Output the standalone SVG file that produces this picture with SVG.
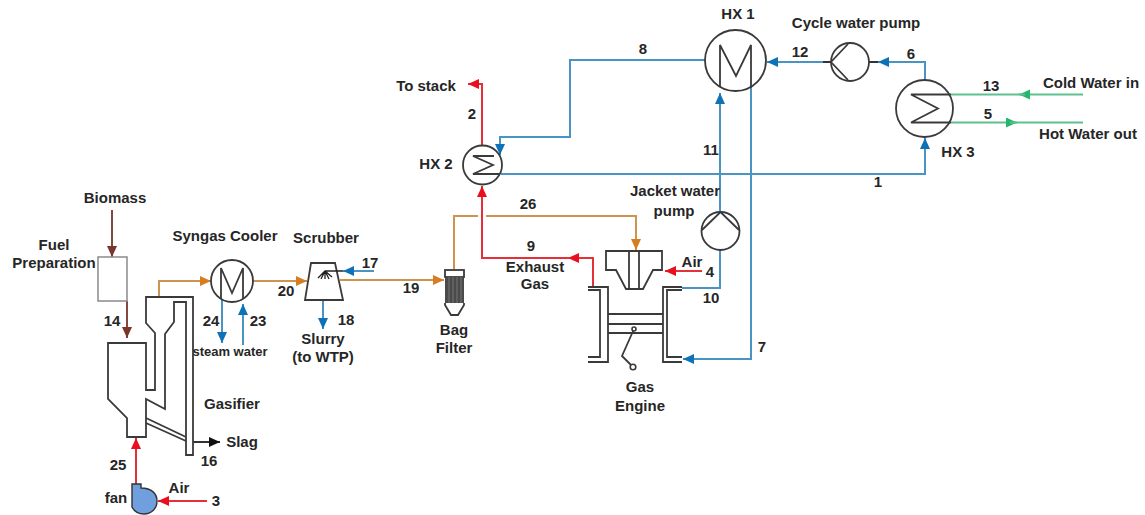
<svg xmlns="http://www.w3.org/2000/svg" width="1145" height="515" viewBox="0 0 1145 515">
<style>
text{font-family:"Liberation Sans",Arial,sans-serif;font-weight:700;font-size:15px;fill:#262626;text-anchor:middle}
.eq{fill:none;stroke:#3a3a3a;stroke-width:1.8}
.eqf{fill:#fff;stroke:#3a3a3a;stroke-width:1.6}
.gr{fill:#fff;stroke:#8a8a8a;stroke-width:1.5}
.c{fill:none;stroke-width:2}
.blue{stroke:#4a94c4}
.org{stroke:#cf9350}
.red{stroke:#e5303a}
.brn{stroke:#84483f}
.grn{stroke:#5fc08f}
.blk{stroke:#333}
</style>
<defs>
<marker id="ab" markerUnits="userSpaceOnUse" markerWidth="12" markerHeight="11" refX="11" refY="5" orient="auto"><path d="M0 0L11 5L0 10Z" fill="#0e72b8"/></marker>
<marker id="ao" markerUnits="userSpaceOnUse" markerWidth="12" markerHeight="11" refX="11" refY="5" orient="auto"><path d="M0 0L11 5L0 10Z" fill="#d67c22"/></marker>
<marker id="ar" markerUnits="userSpaceOnUse" markerWidth="12" markerHeight="11" refX="11" refY="5" orient="auto"><path d="M0 0L11 5L0 10Z" fill="#e8101c"/></marker>
<marker id="an" markerUnits="userSpaceOnUse" markerWidth="12" markerHeight="11" refX="11" refY="5" orient="auto"><path d="M0 0L11 5L0 10Z" fill="#7a362c"/></marker>
<marker id="ag" markerUnits="userSpaceOnUse" markerWidth="12" markerHeight="11" refX="11" refY="5" orient="auto"><path d="M0 0L11 5L0 10Z" fill="#25b56c"/></marker>
<marker id="ak" markerUnits="userSpaceOnUse" markerWidth="12" markerHeight="11" refX="11" refY="5" orient="auto"><path d="M0 0L11 5L0 10Z" fill="#111"/></marker>
</defs>

<g id="connectors">
<path class="c brn" d="M112 210V257" marker-end="url(#an)"/>
<path class="c brn" d="M127 301V338" marker-end="url(#an)"/>
<path class="c org" d="M159 297V281H211" marker-end="url(#ao)"/>
<path class="c org" d="M253 281H307" marker-end="url(#ao)"/>
<path class="c org" d="M340 280H444" marker-end="url(#ao)"/>
<path class="c org" d="M454 269V216H478M486 216H636V250" marker-end="url(#ao)"/>
<path class="c red" d="M593 287V258H568" marker-end="url(#ar)"/>
<path class="c red" d="M570 258H482V186" marker-end="url(#ar)"/>
<path class="c red" d="M482 146V84H468" marker-end="url(#ar)"/>
<path class="c red" d="M136 484V438" marker-end="url(#ar)"/>
<path class="c red" d="M207 501H158" marker-end="url(#ar)"/>
<path class="c red" d="M702 271H665" marker-end="url(#ar)"/>
<path class="c blue" d="M222 300V343" marker-end="url(#ab)"/>
<path class="c blue" d="M243 345V304" marker-end="url(#ab)"/>
<path class="c blue" d="M374 271H343" marker-end="url(#ab)"/>
<path class="c blue" d="M323 300V329" marker-end="url(#ab)"/>
<path class="c blue" d="M705 60H570V137H500V155" marker-end="url(#ab)"/>
<path class="c blue" d="M501 174H925V138" marker-end="url(#ab)"/>
<path class="c blue" d="M682 288H720V250"/>
<path class="c blue" d="M720 212V93" marker-end="url(#ab)"/>
<path class="c blue" d="M751 88V359H683" marker-end="url(#ab)"/>
<path class="c blue" d="M925 80V62H878" marker-end="url(#ab)"/>
<path class="c blue" d="M823 62H767" marker-end="url(#ab)"/>
<path class="c grn" d="M1083 94.500H1019" marker-end="url(#ag)"/>
<path class="c grn" d="M1025 94.500H951"/>
<path class="c grn" d="M951 122.500H1017" marker-end="url(#ag)"/>
<path class="c grn" d="M1010 122.500H1083"/>
<path class="c blk" d="M193 442H220" marker-end="url(#ak)"/>
<path class="c blk" d="M869 62H878M823 62H831"/>
</g>

<g id="fuel-preparation"><rect class="gr" x="98" y="257" width="29" height="44"/></g>

<g id="gasifier">
<path class="eq" d="M108 343H146V390H155V333L146 323V297H193V455H186V302H174V322L165 334V409L146 399V437H127V418L108 399Z"/>
<path class="eq" d="M146 418L186 437M146 423L186 441"/>
</g>

<g id="fan"><path d="M132 484H141V488C152 488 157 494 157 501C157 509 151 514 144 514C138 514 134 511 132 507Z" fill="#6f9fdc" stroke="#333" stroke-width="1.4"/></g>

<g id="syngas-cooler">
<circle class="eq" cx="232" cy="281" r="21"/>
<path class="eq" d="M221 299V268L232 293L243 268V299"/>
</g>

<g id="scrubber">
<path class="eq" d="M311 263H335L343 300H305Z"/>
<path class="eq" style="stroke:#222;stroke-width:1.3" d="M343 271H325L318 278M325 271L321 279M325 271V279M325 271L329 279M325 271L332 277"/>
</g>

<g id="bag-filter">
<rect class="eq" x="445" y="270" width="19" height="7"/>
<rect x="445" y="277" width="19" height="26" fill="#4a4a4a"/>
<path d="M449 277V303M453 277V303M457 277V303M461 277V303" stroke="#777" stroke-width="1"/>
<path class="eq" d="M445 303V305L451 315H458L464 305V303"/>
</g>

<g id="gas-engine">
<path class="eq" d="M606 251H662V270H653L643 289H626L616 270H606Z"/>
<path class="eq" d="M629 251V289M639 251V289"/>
<path class="eq" d="M588 287H608V362H588M588 290H600V357H588"/>
<path class="eq" d="M682 287H663V362H682M682 290H667V357H682"/>
<path class="eq" d="M608 314H663M608 324H663M608 333H663"/>
<path class="eq" d="M634 329L622 356L633 367"/>
<circle class="eqf" cx="634" cy="329" r="2"/>
<circle class="eqf" cx="633" cy="367" r="2.800"/>
</g>

<g id="jacket-water-pump">
<circle class="eq" cx="720.500" cy="231" r="19"/>
<path class="eq" d="M702 230L720.500 212L739 230"/>
</g>

<g id="hx-1">
<circle class="eq" cx="735.500" cy="60.500" r="30.500"/>
<path class="eq" d="M720 87V45L736 76L751 45V88"/>
</g>

<g id="cycle-water-pump">
<circle class="eq" cx="850" cy="62" r="19"/>
<path class="eq" d="M848 44L831 62L848 80"/>
</g>

<g id="hx-2">
<circle class="eq" cx="482.500" cy="165" r="19.500"/>
<path class="eq" d="M494 156H473L493 165L473 174H500"/>
</g>

<g id="hx-3">
<circle class="eq" cx="924.500" cy="108.500" r="28.500"/>
<path class="eq" d="M951 94.500H911L938 108.500L911 122.500H951"/>
</g>

<g id="labels">
<text x="738" y="19">HX 1</text>
<text x="856" y="28">Cycle water pump</text>
<text x="800" y="57">12</text>
<text x="911" y="59">6</text>
<text x="991" y="91">13</text>
<text x="988" y="119">5</text>
<text x="1091" y="88">Cold Water in</text>
<text x="1088" y="139">Hot Water out</text>
<text x="958" y="157">HX 3</text>
<text x="643" y="54">8</text>
<text x="426" y="91">To stack</text>
<text x="472" y="119">2</text>
<text x="436" y="169">HX 2</text>
<text x="711" y="155">11</text>
<text x="878" y="187">1</text>
<text x="675" y="196">Jacket water</text>
<text x="674" y="216">pump</text>
<text x="528" y="209">26</text>
<text x="531" y="251">9</text>
<text x="535" y="272">Exhaust</text>
<text x="535" y="289">Gas</text>
<text x="692" y="267">Air</text>
<text x="710" y="277">4</text>
<text x="711" y="303">10</text>
<text x="762" y="352">7</text>
<text x="640" y="392">Gas</text>
<text x="640" y="411">Engine</text>
<text x="454" y="335">Bag</text>
<text x="454" y="353">Filter</text>
<text x="411" y="293">19</text>
<text x="286" y="296">20</text>
<text x="370" y="268">17</text>
<text x="346" y="325">18</text>
<text x="323" y="344">Slurry</text>
<text x="323" y="362">(to WTP)</text>
<text x="326" y="243">Scrubber</text>
<text x="225" y="241">Syngas Cooler</text>
<text x="115" y="203">Biomass</text>
<text x="54" y="250">Fuel</text>
<text x="54" y="268">Preparation</text>
<text x="112" y="326">14</text>
<text x="211" y="326">24</text>
<text x="258" y="326">23</text>
<text x="230" y="356" style="font-size:13px">steam water</text>
<text x="232" y="409">Gasifier</text>
<text x="242" y="447">Slag</text>
<text x="209" y="466">16</text>
<text x="118" y="470">25</text>
<text x="116" y="503">fan</text>
<text x="179" y="493">Air</text>
<text x="216" y="506">3</text>
</g>
</svg>
